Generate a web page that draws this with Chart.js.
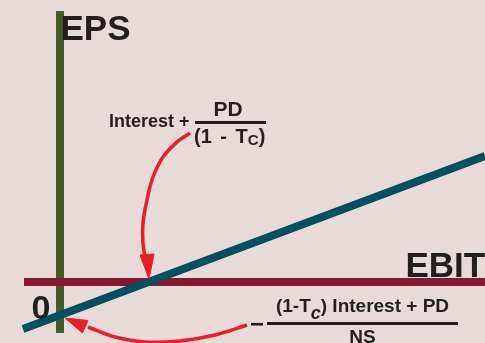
<!DOCTYPE html>
<html>
<head>
<meta charset="utf-8">
<script src="https://cdn.jsdelivr.net/npm/chart.js@4/dist/chart.umd.min.js"></script>
<style>
  html, body { margin: 0; padding: 0; background: #E8DAD8; }
  #wrap { position: relative; width: 485px; height: 343px; overflow: hidden; background: #E8DAD8; }
  #c { position: absolute; left: 0; top: 0; }
  .t { position: absolute; font-family: "Liberation Sans", Arial, Helvetica, sans-serif; font-weight: bold; color: #231F20; line-height: 1; white-space: nowrap; }
  .bar { position: absolute; background: #231F20; }
</style>
</head>
<body>
<div id="wrap">
  <canvas id="c" width="485" height="343"></canvas>
  <div class="t" style="left:60.5px; top:10.4px; font-size:35px;">EPS</div>
  <div class="t" style="left:405.5px; top:247.4px; font-size:35px;">EBIT</div>
  <div class="t" style="left:31.5px; top:289.7px; font-size:34px;">0</div>

  <div class="t" style="left:109px; top:111.5px; font-size:18px;">Interest +</div>
  <div class="t" style="left:195px; top:97.9px; width:66px; text-align:center; font-size:21px;">PD</div>
  <div class="bar" style="left:195px; top:121px; width:71px; height:3px;"></div>
  <div class="t" style="left:194px; top:125.8px; font-size:20px; word-spacing:3px;">(1 - T<span style="font-size:15px; position:relative; top:2px;">C</span>)</div>

  <div class="t" style="left:250px; top:312px; font-size:24px;">−</div>
  <div class="t" style="left:267px; top:295.9px; width:191px; text-align:center; font-size:19px;">(1-T<span style="font-size:18px; font-style:italic; position:relative; top:7px;">c</span>) Interest + PD</div>
  <div class="bar" style="left:267px; top:322px; width:191px; height:3px;"></div>
  <div class="t" style="left:267px; top:326.5px; width:191px; text-align:center; font-size:19px;">NS</div>
</div>
<script>
// Plot extents (EBIT on x, EPS on y)
const ebitRange = [-60, 425];
const epsRange = [-61, 282];

// EBIT axis (EPS = 0) and EPS axis (EBIT = 0)
const ebitAxisEbit = [-36, 425];
const ebitAxisEps = [0, 0];
const epsAxisEbit = [0, 0];
const epsAxisEps = [271, -51];

// EPS as a function of EBIT
const epsLineEbit = [-37, 425];
const epsLineEps = [-47, 126];

// Arrow toward the break-even EBIT
const arrow1Ebit = [130, 117, 103, 93, 87, 83, 83, 85];
const arrow1Eps = [149, 140, 125, 105, 82, 59, 39, 25];
const head1Ebit = [89, 80, 94, 89];
const head1Eps = [3, 27, 28, 3];

// Arrow toward the EPS intercept
const arrow2Ebit = [187, 155, 120, 85, 55, 28];
const arrow2Eps = [-43, -53, -59, -60, -55, -45];
const head2Ebit = [5, 28, 22.5, 5];
const head2Eps = [-36, -38.5, -51, -36];

const pts = (xs, ys) => xs.map((x, i) => ({ x: x, y: ys[i] }));

const RED = '#EE1C25';
const base = { showLine: true, pointRadius: 0, pointHoverRadius: 0, fill: false };

new Chart(document.getElementById('c'), {
  type: 'scatter',
  data: {
    datasets: [
      Object.assign({}, base, { data: pts(head1Ebit, head1Eps), borderColor: RED, backgroundColor: RED, borderWidth: 1, fill: 'shape', order: 0 }),
      Object.assign({}, base, { data: pts(head2Ebit, head2Eps), borderColor: RED, backgroundColor: RED, borderWidth: 1, fill: 'shape', order: 0 }),
      Object.assign({}, base, { data: pts(arrow1Ebit, arrow1Eps), borderColor: RED, borderWidth: 3.5, tension: 0.4, order: 0 }),
      Object.assign({}, base, { data: pts(arrow2Ebit, arrow2Eps), borderColor: RED, borderWidth: 3.5, tension: 0.4, order: 0 }),
      Object.assign({}, base, { data: pts(epsLineEbit, epsLineEps), borderColor: '#00505F', borderWidth: 8, order: 1 }),
      Object.assign({}, base, { data: pts(ebitAxisEbit, ebitAxisEps), borderColor: '#861733', borderWidth: 8, order: 2 }),
      Object.assign({}, base, { data: pts(epsAxisEbit, epsAxisEps), borderColor: '#465A28', borderWidth: 8, order: 3 })
    ]
  },
  options: {
    responsive: false,
    animation: false,
    devicePixelRatio: 1,
    layout: { padding: 0 },
    plugins: { legend: { display: false }, tooltip: { enabled: false } },
    events: [],
    scales: {
      x: { type: 'linear', min: ebitRange[0], max: ebitRange[1], display: false },
      y: { type: 'linear', min: epsRange[0], max: epsRange[1], display: false }
    }
  }
});
</script>
</body>
</html>
